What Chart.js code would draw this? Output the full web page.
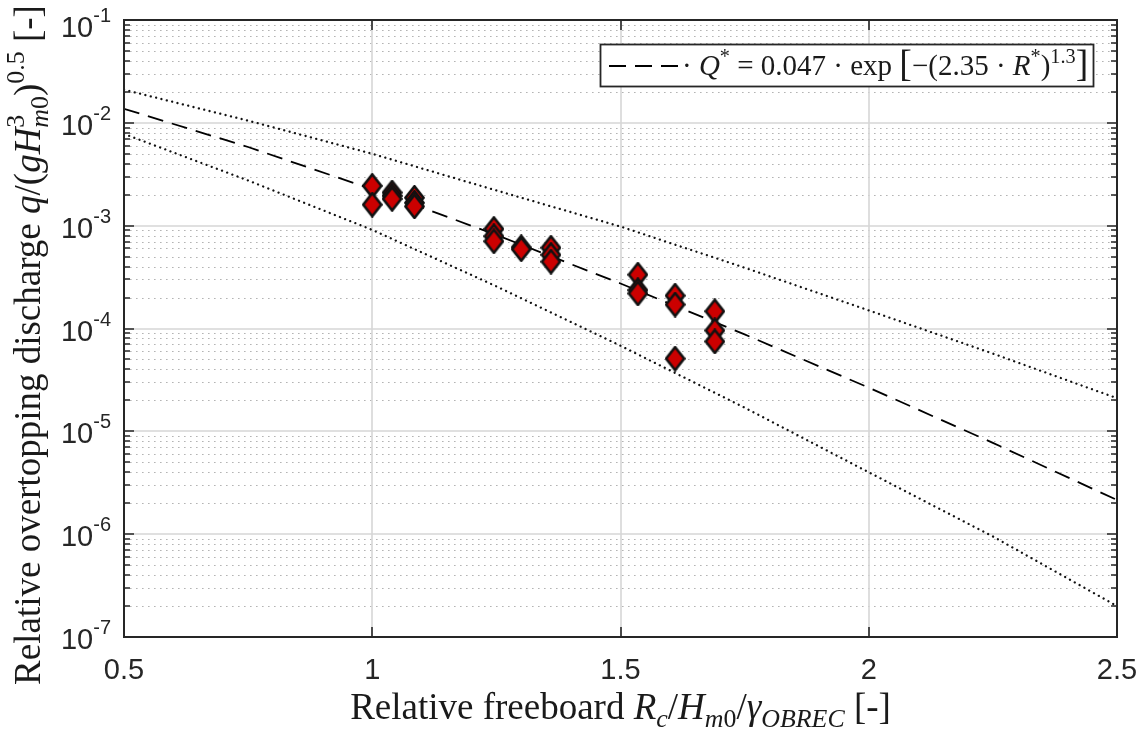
<!DOCTYPE html>
<html>
<head>
<meta charset="utf-8">
<script src="https://cdn.jsdelivr.net/npm/chart.js@4.4.0/dist/chart.umd.min.js"></script>
<style>
  html, body { margin: 0; padding: 0; background: #fff; }
</style>
</head>
<body>
<canvas id="chart" width="1143" height="732"></canvas>
<script>
// measured runs: relative freeboard vs. dimensionless overtopping discharge
const freeboard = [1.00, 1.00, 1.04, 1.04, 1.04, 1.085, 1.085, 1.085, 1.245, 1.245, 1.245, 1.30, 1.30,
                   1.36, 1.36, 1.36, 1.535, 1.535, 1.535, 1.61, 1.61, 1.61, 1.69, 1.69, 1.69];
const discharge = [2.44e-3, 1.60e-3, 2.10e-3, 1.95e-3, 1.82e-3, 1.87e-3, 1.67e-3, 1.54e-3, 9.3e-4, 7.9e-4, 7.05e-4, 6.16e-4, 5.9e-4,
                   6.1e-4, 5.2e-4, 4.47e-4, 3.34e-4, 2.36e-4, 2.19e-4, 2.09e-4, 1.71e-4, 5.1e-5, 1.47e-4, 9.57e-5, 7.48e-5];

// fitted curve and its confidence band, sampled along R*
const curveX = [0.5, 0.75, 1.0, 1.25, 1.5, 1.75, 2.0, 2.25, 2.5];
const fitQ   = [1.37e-2, 5.82e-3, 2.26e-3, 8.12e-4, 2.74e-4, 8.76e-5, 2.66e-5, 7.72e-6, 2.15e-6];
const upperQ = [2.1e-2, 1.05e-2, 5.0e-3, 2.2e-3, 9.8e-4, 3.9e-4, 1.5e-4, 5.7e-5, 2.1e-5];
const lowerQ = [7.8e-3, 2.75e-3, 9.1e-4, 2.57e-4, 6.8e-5, 1.7e-5, 4.0e-6, 9.5e-7, 2.0e-7];

const xTicks = [0.5, 1, 1.5, 2, 2.5];
const yExponents = [-7, -6, -5, -4, -3, -2, -1];

const SERIF = '"Liberation Serif", "DejaVu Serif", serif';
const SANS = '"Liberation Sans", Arial, sans-serif';

// red diamond marker with a black edge
function diamond(w, h) {
  const c = document.createElement('canvas');
  c.width = w; c.height = h;
  const g = c.getContext('2d');
  g.beginPath();
  g.moveTo(w / 2, 1.5); g.lineTo(w - 1.5, h / 2); g.lineTo(w / 2, h - 1.5); g.lineTo(1.5, h / 2);
  g.closePath();
  g.fillStyle = '#cc0000';
  g.fill();
  g.lineWidth = 2.6;
  g.strokeStyle = '#111';
  g.stroke();
  return c;
}

// lay out mixed roman / italic / super / subscript runs
function layoutRuns(ctx, runs, size, family) {
  let pen = 0, prevStart = 0;
  const items = [];
  for (const r of runs) {
    const fs = size * (r.s || 1);
    const font = (r.i ? 'italic ' : '') + fs.toFixed(1) + 'px ' + family;
    ctx.font = font;
    const w = ctx.measureText(r.t).width;
    const start = r.stack ? prevStart : pen;
    items.push({ t: r.t, font, x: start, dy: (r.dy || 0) * size });
    if (r.stack) pen = Math.max(pen, start + w);
    else { prevStart = start; pen = start + w; }
  }
  return { items, width: pen };
}

function drawRuns(ctx, runs, x, y, size, family, align) {
  const lay = layoutRuns(ctx, runs, size, family);
  const x0 = align === 'left' ? x : x - lay.width / 2;
  ctx.textAlign = 'left';
  ctx.textBaseline = 'alphabetic';
  for (const it of lay.items) {
    ctx.font = it.font;
    ctx.fillText(it.t, x0 + it.x, y + it.dy);
  }
  return lay.width;
}

const SUP = { s: 0.7, dy: -0.42 };
const SUB = { s: 0.7, dy: 0.22 };

const yTitleRuns = [
  { t: 'Relative overtopping discharge ' },
  { t: 'q', i: true }, { t: '/(' }, { t: 'gH', i: true },
  Object.assign({ t: '3' }, SUP),
  Object.assign({ t: 'm', i: true, stack: true }, SUB), Object.assign({ t: '0' }, SUB),
  { t: ')' }, Object.assign({ t: '0.5' }, SUP), { t: ' [-]' }
];
const xTitleRuns = [
  { t: 'Relative freeboard ' },
  { t: 'R', i: true }, Object.assign({ t: 'c', i: true }, SUB), { t: '/' },
  { t: 'H', i: true }, Object.assign({ t: 'm', i: true }, SUB), Object.assign({ t: '0' }, SUB), { t: '/' },
  { t: '\u03B3', i: true }, Object.assign({ t: 'OBREC', i: true }, SUB), { t: ' [-]' }
];
const legendRuns = [
  { t: '\u00B7 ' }, { t: 'Q', i: true }, Object.assign({ t: '*' }, SUP),
  { t: ' = 0.047 \u00B7 exp ' }, { t: '[', s: 1.3, dy: 0.05 }, { t: '\u2212(2.35 \u00B7 ' },
  { t: 'R', i: true }, Object.assign({ t: '*' }, SUP), { t: ')' },
  Object.assign({ t: '1.3' }, SUP), { t: ']', s: 1.3, dy: 0.05 }
];

const frame = {
  id: 'frame',
  beforeDatasetsDraw(chart) {
    const { ctx, chartArea: a, scales: { x, y } } = chart;
    ctx.save();
    // minor dotted grid
    ctx.strokeStyle = '#b4b4b4';
    ctx.lineWidth = 1.2;
    ctx.setLineDash([1.6, 4.4]);
    for (const e of yExponents.slice(0, -1)) {
      for (let m = 2; m <= 9; m++) {
        const py = Math.round(y.getPixelForValue(m * Math.pow(10, e))) + 0.5;
        ctx.beginPath(); ctx.moveTo(a.left, py); ctx.lineTo(a.right, py); ctx.stroke();
      }
    }
    // major grid
    ctx.setLineDash([]);
    ctx.strokeStyle = '#d6d6d6';
    ctx.lineWidth = 1.6;
    for (const e of yExponents) {
      const py = Math.round(y.getPixelForValue(Math.pow(10, e)));
      ctx.beginPath(); ctx.moveTo(a.left, py); ctx.lineTo(a.right, py); ctx.stroke();
    }
    for (const v of xTicks) {
      const px = Math.round(x.getPixelForValue(v));
      ctx.beginPath(); ctx.moveTo(px, a.top); ctx.lineTo(px, a.bottom); ctx.stroke();
    }
    ctx.restore();
  },
  afterDatasetsDraw(chart) {
    const { ctx, chartArea: a, scales: { x, y } } = chart;
    ctx.save();
    ctx.strokeStyle = '#262626';
    ctx.fillStyle = '#262626';
    // tick marks, pointing inwards on all four sides
    ctx.lineWidth = 1.6;
    for (const e of yExponents) {
      for (let m = 1; m <= 9; m++) {
        const v = m * Math.pow(10, e);
        if (v > 0.1 * 1.0001) break;
        const py = Math.round(y.getPixelForValue(v));
        const len = m === 1 ? 10 : 6;
        ctx.beginPath();
        ctx.moveTo(a.left, py); ctx.lineTo(a.left + len, py);
        ctx.moveTo(a.right, py); ctx.lineTo(a.right - len, py);
        ctx.stroke();
      }
    }
    for (const v of xTicks) {
      const px = Math.round(x.getPixelForValue(v));
      ctx.beginPath();
      ctx.moveTo(px, a.bottom); ctx.lineTo(px, a.bottom - 10);
      ctx.moveTo(px, a.top); ctx.lineTo(px, a.top + 10);
      ctx.stroke();
    }
    // axes box
    ctx.lineWidth = 2;
    ctx.strokeRect(a.left, a.top, a.right - a.left, a.bottom - a.top);

    // x tick labels
    ctx.font = '29px ' + SANS;
    ctx.textAlign = 'center';
    ctx.textBaseline = 'middle';
    for (const v of xTicks) {
      ctx.fillText(String(v), x.getPixelForValue(v), a.bottom + 34);
    }
    // y tick labels as 10 with a superscript exponent
    for (const e of yExponents) {
      const py = y.getPixelForValue(Math.pow(10, e));
      ctx.textAlign = 'left';
      ctx.textBaseline = 'alphabetic';
      ctx.font = '20px ' + SANS;
      const sup = String(e);
      const ws = ctx.measureText(sup).width;
      ctx.font = '29px ' + SANS;
      const wb = ctx.measureText('10').width;
      const right = a.left - 13;
      const base = e === -1 ? py + 17 : py + 12;
      ctx.fillText('10', right - ws - wb, base);
      ctx.font = '20px ' + SANS;
      ctx.fillText(sup, right - ws, base - 15);
    }

    // axis titles
    ctx.fillStyle = '#1a1a1a';
    drawRuns(ctx, xTitleRuns, (a.left + a.right) / 2, 719, 37, SERIF, 'center');
    ctx.save();
    ctx.translate(40, 345);
    ctx.rotate(-Math.PI / 2);
    drawRuns(ctx, yTitleRuns, 0, 0, 37, SERIF, 'center');
    ctx.restore();

    // legend box
    const lx = 600, ly = 44, lw = 493, lh = 42;
    ctx.fillStyle = '#fff';
    ctx.fillRect(lx, ly, lw, lh);
    ctx.lineWidth = 1.8;
    ctx.strokeStyle = '#262626';
    ctx.strokeRect(lx + 0.5, ly + 0.5, lw, lh);
    ctx.strokeStyle = '#000';
    ctx.lineWidth = 1.8;
    ctx.setLineDash([17, 9]);
    ctx.beginPath(); ctx.moveTo(lx + 9, ly + 22); ctx.lineTo(lx + 80, ly + 22); ctx.stroke();
    ctx.setLineDash([]);
    ctx.fillStyle = '#1a1a1a';
    drawRuns(ctx, legendRuns, lx + 82, ly + 31, 29, SERIF, 'left');
    ctx.restore();
  }
};

const pts = freeboard.map((v, i) => ({ x: v, y: discharge[i] }));
const curve = (vals) => curveX.map((v, i) => ({ x: v, y: vals[i] }));

const dotted = {
  type: 'line',
  borderColor: '#111',
  borderWidth: 2.3,
  borderDash: [0.01, 5.5],
  borderCapStyle: 'round',
  pointRadius: 0,
  fill: false,
  tension: 0
};

new Chart(document.getElementById('chart'), {
  type: 'scatter',
  data: {
    datasets: [
      {
        label: 'Measured',
        data: pts,
        pointStyle: diamond(21, 26),
        pointRadius: 12
      },
      {
        label: 'Q* fit',
        type: 'line',
        data: curve(fitQ),
        borderColor: '#000',
        borderWidth: 1.8,
        borderDash: [16, 9],
        pointRadius: 0,
        fill: false,
        tension: 0
      },
      Object.assign({ label: 'upper bound', data: curve(upperQ) }, dotted),
      Object.assign({ label: 'lower bound', data: curve(lowerQ) }, dotted)
    ]
  },
  options: {
    responsive: false,
    animation: false,
    layout: { padding: { left: 124, right: 26, top: 20, bottom: 95 } },
    scales: {
      x: { type: 'linear', min: 0.5, max: 2.5, display: false },
      y: { type: 'logarithmic', min: 1e-7, max: 1e-1, display: false }
    },
    plugins: { legend: { display: false }, tooltip: { enabled: false } }
  },
  plugins: [frame]
});
</script>
</body>
</html>
